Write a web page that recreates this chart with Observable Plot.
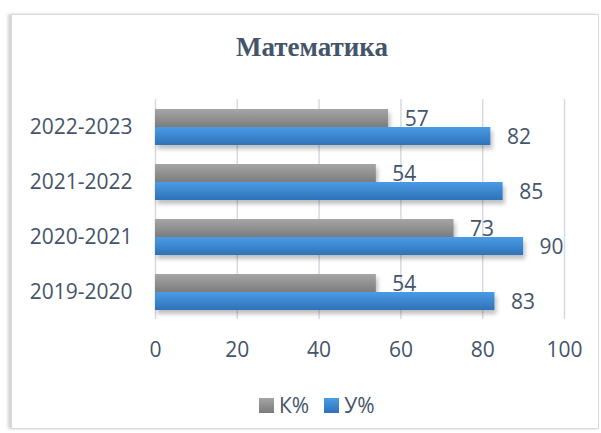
<!DOCTYPE html>
<html><head><meta charset="utf-8">
<script src="https://cdn.jsdelivr.net/npm/d3@7"></script>
<script src="https://cdn.jsdelivr.net/npm/@observablehq/plot@0.6"></script>
<style>
html,body{margin:0;padding:0;background:#fff;width:601px;height:433px;overflow:hidden;}
#frame{position:absolute;left:11px;top:14px;width:586px;height:413px;border:1px solid #d9d9d9;box-shadow:-3px 0 3px rgba(0,0,0,0.18);background:#fff;}
#title{position:absolute;left:0;top:32px;width:624px;text-align:center;font-family:"Liberation Serif","Times New Roman",serif;font-weight:bold;font-size:27px;color:#44546a;}
#chart{position:absolute;left:0;top:90px;}
#legend{position:absolute;left:259px;top:391px;font-family:"Open Sans",sans-serif;font-size:21px;color:#44546a;display:flex;align-items:center;white-space:nowrap;}
.sw{display:inline-block;width:15px;height:15px;margin-right:5px;}
</style></head>
<body>
<div id="frame"></div>
<div id="title">Математика</div>
<div id="chart"></div>
<div id="legend"><span class="sw" style="background:linear-gradient(#a5a5a5,#7b7b7b)"></span><span>К%</span><span class="sw" style="margin-left:15px;background:linear-gradient(#4a9be6,#2f72b8)"></span><span>У%</span></div>
<script>
const years = ["2019-2020","2020-2021","2021-2022","2022-2023"];
const series = ["К%","У%"];
const kValues = [54,73,54,57];
const uValues = [83,90,85,82];
const xTicks = [0,20,40,60,80,100];

const rows = [];
years.forEach((y,i)=>{
  rows.push({year:y, series:"К%", value:kValues[i]});
  rows.push({year:y, series:"У%", value:uValues[i]});
});

const chart = Plot.plot({
  width: 601, height: 285,
  marginLeft: 155, marginRight: 37, marginTop: 7, marginBottom: 55,
  style: {fontSize: "21px", fontFamily: "Open Sans, sans-serif", color: "#44546a", background: "transparent", overflow: "visible"},
  x: {domain: [0,100], ticks: xTicks, tickSize: 0, tickPadding: 23, label: null},
  fy: {domain: years.slice().reverse(), padding: 0, axis: "left", tickSize: 0, tickPadding: 23, label: null},
  y: {domain: series, paddingInner: 0, paddingOuter: 0.467, axis: null},
  marks: [
    Plot.ruleX(xTicks, {stroke: "#d5dae2", strokeWidth: 1.5}),
    Plot.barX(rows, {x: "value", y: "series", fy: "year",
      fill: d => d.series === "К%" ? "url(#gGray)" : "url(#gBlue)"}),
    Plot.text(rows, {x: "value", y: "series", fy: "year", text: d => String(d.value),
      dx: 16, dy: 1, textAnchor: "start", fill: "#44546a", fontSize: 21})
  ]
});

const defs = d3.select(chart).insert("defs", ":first-child");
function grad(id, c1, c2){
  const g = defs.append("linearGradient").attr("id", id).attr("x1",0).attr("y1",0).attr("x2",0).attr("y2",1);
  g.append("stop").attr("offset","0%").attr("stop-color",c1);
  g.append("stop").attr("offset","100%").attr("stop-color",c2);
}
grad("gGray","#a6a6a6","#7c7c7c");
grad("gBlue","#4a9be6","#2f72b8");
const f = defs.append("filter").attr("id","shadow").attr("x","-10%").attr("y","-20%").attr("width","130%").attr("height","170%");
f.append("feDropShadow").attr("dx",2).attr("dy",4).attr("stdDeviation",2).attr("flood-color","#000").attr("flood-opacity",0.25);
d3.select(chart).selectAll("rect").attr("filter","url(#shadow)");
document.getElementById("chart").appendChild(chart);
</script>
</body></html>
